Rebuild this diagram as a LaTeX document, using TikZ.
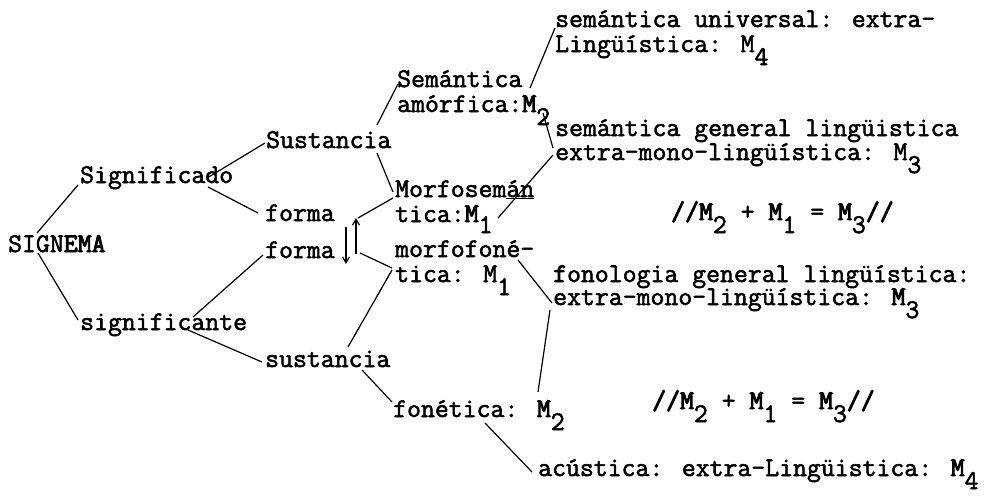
\documentclass[tikz,border=0pt]{standalone}
\usepackage{fontspec}
\usetikzlibrary{calc,arrows.meta}
\newfontfamily\tw{Latin Modern Mono}[FakeBold=2]
\newfontfamily\twb{Latin Modern Mono}[FakeBold=3.5]
\newcommand\sbx[1]{\raisebox{-13pt}{#1}}
\newcommand\sbxs[1]{\raisebox{-11pt}{#1}}
\newcommand\bM{{\twb M}}
\begin{document}
\begin{tikzpicture}[x=1pt,y=-1pt,
  tx/.style={anchor=base west, inner sep=0pt, font={\tw\fontsize{27}{27}\selectfont}},
  ln/.style={line width=1.2pt},
  ar/.style={line width=1.2pt, -{Straight Barb[length=6pt,width=7pt]}}]
\useasboundingbox (0,0) rectangle (989,496);
% nodes
\node[tx] (sig)  at (8,252)   {SIGN{\twb EMA}};
\node[tx] (sdo)  at (80,183)  {Significado};
\node[tx] (ste)  at (80,330)  {significante};
\node[tx] (Sus)  at (266,148) {Sustancia};
\node[tx] (fo1)  at (265,221) {forma};
\node[tx] (fo2)  at (265,258) {forma};
\node[tx] (sus)  at (265,367) {sustancia};
\node[tx] (sema) at (397,87)  {Semántica};
\node[tx] (amor) at (397,112) {amórfica:\bM\sbx{2}};
\node[tx] (mse)  at (395,197) {Morfosem\underline{án}};
\node[tx] (mse2) at (395,222) {tica:\bM\sbxs{1}};
\node[tx] (mfo)  at (395,257) {morfofoné-};
\node[tx] (mfo2) at (395,282) {tica: M\sbx{1}};
\node[tx] (fon)  at (393,417) {fonética: \bM\sbx{2}};
\node[tx] (su1)  at (555,27)  {semántica universal: extra-};
\node[tx] (su2)  at (555,52)  {Lingüística: M\sbx{4}};
\node[tx] (sg1)  at (555,136) {semántica general lingüistica};
\node[tx] (sg2)  at (555,160) {extra-mono-lingüística: M\sbx{3}};
\node[tx] (eq1)  at (671,220) {{\twb//M}\sbx{2} + \bM\sbx{1} = \bM\sbx{3}{\twb//}};
\node[tx] (fl1)  at (553,282) {{\twb f}onologia general lingüística:};
\node[tx] (fl2)  at (553,305) {extra-mono-lingüística: \bM\sbx{3}};
\node[tx] (eq2)  at (652,409) {{\twb//M}\sbx{2} + \bM\sbx{1} = \bM\sbx{3}{\twb//}};
\node[tx] (acu)  at (538,476) {acústica: extra-Lingüistica: \bM\sbx{4}};
% arrow coordinates
\coordinate (upT) at ($(fo1.base west)+(91,-3)$);
\coordinate (upB) at ($(fo1.base west)+(91,33)$);
\coordinate (dnT) at ($(fo1.base west)+(81,6)$);
\coordinate (dnB) at ($(fo1.base west)+(81,43)$);
% connectors
\draw[ln] ($(sig.base west)+(29,-19)$) -- ($(sdo.base west)+(-2,2)$);
\draw[ln] ($(sig.base west)+(30,1)$) -- ($(ste.base west)+(-2,-10)$);
\draw[ln] ($(sdo.base west)+(127,-5)$) -- ($(Sus.base west)+(-1,-5)$);
\draw[ln] ($(sdo.base west)+(128,4)$) -- ($(fo1.base west)+(-7,-8)$);
\draw[ln] ($(ste.base west)+(113,-13)$) -- ($(fo2.base west)+(-2,-3)$);
\draw[ln] ($(ste.base west)+(108,0)$) -- ($(sus.base west)+(-3,-5)$);
\draw[ln] ($(Sus.base west)+(111,-23)$) -- ($(sema.base west)+(1,-3)$);
\draw[ln] ($(Sus.base west)+(111,5)$) -- ($(mse.base west)+(-2,-5)$);
\draw[ln] ($(mse.base west)+(-2,1)$) -- ($(upT)+(2,0)$);
\draw[ar] (upB) -- (upT);
\draw[ar] (dnT) -- (dnB);
\draw[ln] ($(mfo.base west)+(-3,11)$) -- ($(upB)+(4,-1)$);
\draw[ln] ($(mfo.base west)+(-3,13)$) -- ($(sus.base west)+(83,-20)$);
\draw[ln] ($(sus.base west)+(97,3)$) -- ($(fon.base west)+(-1,-15)$);
\draw[ln] ($(fon.base west)+(92,6)$) -- ($(acu.base west)+(-6,-4)$);
\draw[ln] ($(mfo.base west)+(123,3)$) -- ($(fl2.base west)+(-1,-2)$);
\draw[ln] ($(fl2.base west)+(-3,5)$) -- ($(fon.base west)+(145,-25)$);
\draw[ln] ($(mse2.base west)+(103,-4)$) -- ($(sg2.base west)+(-2,-5)$);
\draw[ln] ($(amor.base west)+(146,1)$) -- ($(sg1.base west)+(-2,12)$);
\draw[ln] ($(sema.base west)+(133,1)$) -- ($(su1.base west)+(0,1)$);
\end{tikzpicture}
\end{document}
